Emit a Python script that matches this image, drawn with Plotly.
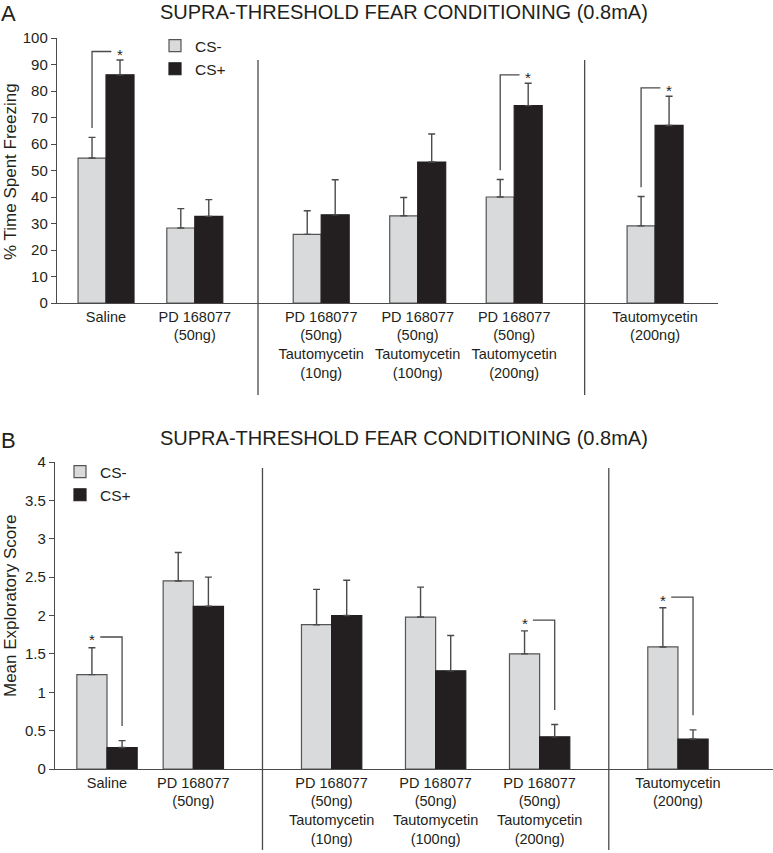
import plotly.graph_objects as go

# ---------------- data ----------------
GROUPS = [
    "Saline",
    "PD 168077<br>(50ng)",
    "PD 168077<br>(50ng)<br>Tautomycetin<br>(10ng)",
    "PD 168077<br>(50ng)<br>Tautomycetin<br>(100ng)",
    "PD 168077<br>(50ng)<br>Tautomycetin<br>(200ng)",
    "Tautomycetin<br>(200ng)",
]
SECTIONS = [0, 0, 1, 1, 1, 2]
SERIES = ["CS-", "CS+"]

A_CS_MINUS = [54.7, 28.3, 25.9, 32.9, 40.0, 29.1]
A_CS_MINUS_ERR = [7.8, 7.3, 8.9, 6.9, 6.6, 11.1]
A_CS_PLUS = [86.1, 32.7, 33.3, 53.2, 74.5, 67.0]
A_CS_PLUS_ERR = [5.6, 6.3, 13.2, 10.6, 8.4, 11.0]
A_SIG = [0, 4, 5]

B_CS_MINUS = [1.23, 2.45, 1.88, 1.98, 1.50, 1.59]
B_CS_MINUS_ERR = [0.35, 0.37, 0.46, 0.39, 0.30, 0.51]
B_CS_PLUS = [0.28, 2.12, 2.00, 1.28, 0.42, 0.39]
B_CS_PLUS_ERR = [0.09, 0.38, 0.46, 0.46, 0.16, 0.12]
B_SIG = [0, 4, 5]

TITLE = "SUPRA-THRESHOLD FEAR CONDITIONING (0.8mA)"
A_YTITLE = "% Time Spent Freezing"
B_YTITLE = "Mean Exploratory Score"

# ---------------- style / layout ----------------
FONT = "Liberation Sans, Arial, sans-serif"
TXT = "#231f20"
AX = "#4a4a4a"
LIGHT = "#d9dadb"
DARK = "#231f20"
W, H = 773, 853
BARW = 0.29


def positions(steps, gaps):
    pos, x = [], 0.0
    for i, s in enumerate(SECTIONS):
        if i > 0:
            x += steps[s] if s == SECTIONS[i - 1] else gaps[s - 1]
        pos.append(x)
    return pos


def px(xp):
    return xp / W


def py(yp):
    return 1 - yp / H


fig = go.Figure()
shapes, annots = [], []


def panel(xa, ya, legend, pos, minus, minus_err, plus, plus_err):
    for name, vals, errs, fill, line, off in [
        (SERIES[0], minus, minus_err, LIGHT, "#555555", -BARW),
        (SERIES[1], plus, plus_err, DARK, DARK, 0.0),
    ]:
        fig.add_trace(go.Bar(
            x=pos, y=vals, name=name, width=BARW, offset=off,
            marker=dict(color=fill, line=dict(color=line, width=1.2)),
            error_y=dict(type="data", array=errs, arrayminus=[0] * len(errs),
                         symmetric=False, color=AX, thickness=1.4, width=3.5),
            xaxis=xa, yaxis=ya, legend=legend, hoverinfo="skip",
        ))


posA = positions([0.92, 1.0, 1.0], [1.31, 1.46])
posB = positions([0.83, 1.0, 1.0], [1.33, 1.33])

panel("x", "y", "legend", posA, A_CS_MINUS, A_CS_MINUS_ERR, A_CS_PLUS, A_CS_PLUS_ERR)
panel("x2", "y2", "legend2", posB, B_CS_MINUS, B_CS_MINUS_ERR, B_CS_PLUS, B_CS_PLUS_ERR)

# separators
for (pos, xr, y0, y1) in [(posA, "x", py(395), py(60)), (posB, "x2", py(850), py(468))]:
    for i in range(1, len(SECTIONS)):
        if SECTIONS[i] != SECTIONS[i - 1]:
            xm = (pos[i - 1] + pos[i]) / 2
            shapes.append(dict(type="line", xref=xr, yref="paper", x0=xm, x1=xm,
                               y0=y0, y1=y1, line=dict(color=AX, width=1.3)))

# significance brackets, panel A
for i in A_SIG:
    xm = posA[i] - BARW / 2
    xp = posA[i] + BARW / 2
    y0 = A_CS_MINUS[i] + A_CS_MINUS_ERR[i] + 3.5
    y1 = A_CS_PLUS[i] + A_CS_PLUS_ERR[i] + 3.2
    shapes.append(dict(type="path", xref="x", yref="y",
                       path=f"M{xm},{y0} L{xm},{y1} L{xp - 0.09},{y1}",
                       line=dict(color=AX, width=1.3)))
    annots.append(dict(x=xp, y=y1, xref="x", yref="y", text="*", showarrow=False,
                       font=dict(size=15, color=TXT, family=FONT), yanchor="middle", yshift=-3))

# significance brackets, panel B
for i in B_SIG:
    xm = posB[i] - BARW / 2
    xp = posB[i] + BARW / 2
    y0 = B_CS_MINUS[i] + B_CS_MINUS_ERR[i] + 0.14
    y1 = B_CS_PLUS[i] + B_CS_PLUS_ERR[i] + 0.19
    shapes.append(dict(type="path", xref="x2", yref="y2",
                       path=f"M{xm + 0.08},{y0} L{xp},{y0} L{xp},{y1}",
                       line=dict(color=AX, width=1.3)))
    annots.append(dict(x=xm, y=y0, xref="x2", yref="y2", text="*", showarrow=False,
                       font=dict(size=15, color=TXT, family=FONT), yanchor="middle", yshift=-3))

# titles and panel letters
for letter, ty in [("A", 13), ("B", 441)]:
    annots.append(dict(x=0, y=py(ty), xref="paper", yref="paper", text=letter,
                       showarrow=False, xanchor="left", yanchor="middle", xshift=-1,
                       font=dict(size=22, color=TXT, family=FONT)))
for ty in [12, 438]:
    annots.append(dict(x=px(404), y=py(ty), xref="paper", yref="paper", text=TITLE,
                       showarrow=False, xanchor="center", yanchor="middle",
                       font=dict(size=20, color=TXT, family=FONT)))
for t, ty in [(A_YTITLE, 172), (B_YTITLE, 606)]:
    annots.append(dict(x=px(10), y=py(ty), xref="paper", yref="paper", text=t,
                       textangle=-90, showarrow=False, xanchor="center", yanchor="middle",
                       font=dict(size=17, color=TXT, family=FONT)))

xcommon = dict(showline=True, linecolor=AX, linewidth=1.4, showgrid=False, zeroline=False,
               ticks="", ticklen=0, tickfont=dict(size=14.5, color=TXT, family=FONT),
               ticktext=GROUPS, tickmode="array", automargin=False)
ycommon = dict(showline=True, linecolor=AX, linewidth=1.4, showgrid=False, zeroline=False,
               ticks="outside", ticklen=5, tickcolor=AX, tickwidth=1.2, automargin=False,
               tickfont=dict(size=15, color=TXT, family=FONT))

fig.update_layout(
    width=W, height=H, margin=dict(l=0, r=0, t=0, b=0, autoexpand=False),
    paper_bgcolor="white", plot_bgcolor="white",
    font=dict(family=FONT, color=TXT),
    xaxis=dict(domain=[px(57), px(718)], range=[-0.508, 6.342], anchor="y",
               tickvals=posA, **xcommon),
    yaxis=dict(domain=[py(303), py(38)], range=[0, 100], dtick=10, anchor="x", **ycommon),
    xaxis2=dict(domain=[px(55), 1.0], range=[-0.5, 6.404], anchor="y2",
                tickvals=posB, **xcommon),
    yaxis2=dict(domain=[py(769), py(462)], range=[0, 4], dtick=0.5, anchor="x2", **ycommon),
    legend=dict(x=px(155), y=py(29), xanchor="left", yanchor="top",
                bgcolor="rgba(0,0,0,0)", font=dict(size=15.5, color=TXT, family=FONT),
                tracegroupgap=0),
    legend2=dict(x=px(60), y=py(455), xanchor="left", yanchor="top",
                 bgcolor="rgba(0,0,0,0)", font=dict(size=15.5, color=TXT, family=FONT),
                 tracegroupgap=0),
    showlegend=True,
    barmode="overlay",
    shapes=shapes, annotations=annots,
)

fig.write_html(
    "out.html",
    config={"displayModeBar": False},
    post_script=(
        "document.documentElement.style.margin='0';"
        "document.body.style.margin='0';document.body.style.padding='0';"
        "var d=document.getElementById('{plot_id}');"
        "d.style.position='fixed';d.style.top='0px';d.style.left='0px';"
    ),
)
